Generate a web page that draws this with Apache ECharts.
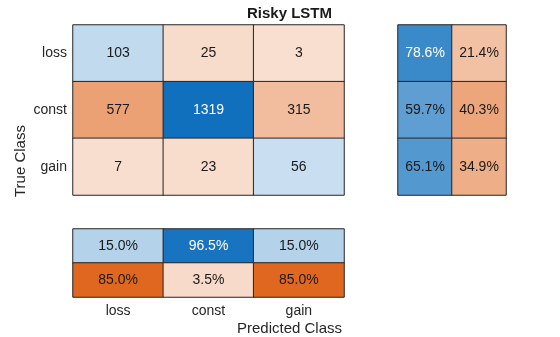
<!DOCTYPE html>
<html><head><meta charset="utf-8">
<script src="https://cdn.jsdelivr.net/npm/echarts@6/dist/echarts.min.js"></script>
<style>html,body{margin:0;padding:0;background:#fff}#c{width:560px;height:337px}</style>
</head><body><div id="c"></div>
<script>
const title = 'Risky LSTM';
const classes = ['loss', 'const', 'gain'];
const counts = [[103, 25, 3], [577, 1319, 315], [7, 23, 56]];
const rowPct = [[78.6, 21.4], [59.7, 40.3], [65.1, 34.9]];
const colPct = [[15.0, 96.5, 15.0], [85.0, 3.5, 85.0]];

const BLUE_L = [209, 227, 242], BLUE_F = [17, 112, 190];
const ORG_L = [248, 223, 208], ORG_F = [220, 82, 0];
function mix(a, b, t) {
  return 'rgb(' + a.map((v, i) => Math.round(v + (b[i] - v) * t)).join(',') + ')';
}
function cell(x, y, v, blue, t, text) {
  return {
    value: [x, y, v],
    itemStyle: { color: blue ? mix(BLUE_L, BLUE_F, t) : mix(ORG_L, ORG_F, t) },
    label: { color: (blue && t > 0.7) ? '#fff' : '#1a1a1a', formatter: text }
  };
}
const maxCount = Math.max(...counts.flat());
const mainData = [];
counts.forEach((row, i) => row.forEach((v, j) => mainData.push(cell(j, i, v, i === j, v / maxCount, String(v)))));
const rowData = [];
rowPct.forEach((row, i) => row.forEach((v, j) => rowData.push(cell(j, i, v, j === 0, v / 100, v.toFixed(1) + '%'))));
const colData = [];
colPct.forEach((row, i) => row.forEach((v, j) => colData.push(cell(j, i, v, i === 0, v / 100, v.toFixed(1) + '%'))));

const font = 'Liberation Sans, Arial, sans-serif';
const hidden = { axisLine: { show: false }, axisTick: { show: false }, axisLabel: { show: false }, splitLine: { show: false } };
const cellStyle = { borderColor: '#262626', borderWidth: 1 };
const lbl = { show: true, fontSize: 14, fontFamily: font };

const chart = echarts.init(document.getElementById('c'));
chart.setOption({
  animation: false,
  textStyle: { fontFamily: font },
  grid: [
    { left: 73, top: 25, width: 271, height: 170 },
    { left: 398, top: 25, width: 108, height: 170 },
    { left: 73, top: 229, width: 271, height: 68 }
  ],
  xAxis: [
    Object.assign({ type: 'category', data: classes, gridIndex: 0 }, hidden),
    Object.assign({ type: 'category', data: ['a', 'b'], gridIndex: 1 }, hidden),
    { type: 'category', data: classes, gridIndex: 2, axisLine: { show: false }, axisTick: { show: false },
      axisLabel: { fontSize: 14, color: '#262626', margin: 7, fontFamily: font }, splitLine: { show: false } }
  ],
  yAxis: [
    { type: 'category', data: classes, gridIndex: 0, inverse: true, axisLine: { show: false }, axisTick: { show: false },
      axisLabel: { fontSize: 14, color: '#262626', margin: 6, fontFamily: font }, splitLine: { show: false } },
    Object.assign({ type: 'category', data: classes, gridIndex: 1, inverse: true }, hidden),
    Object.assign({ type: 'category', data: ['p', 'n'], gridIndex: 2, inverse: true }, hidden)
  ],
  series: [
    { type: 'heatmap', xAxisIndex: 0, yAxisIndex: 0, data: mainData, itemStyle: cellStyle, label: lbl },
    { type: 'heatmap', xAxisIndex: 1, yAxisIndex: 1, data: rowData, itemStyle: cellStyle, label: lbl },
    { type: 'heatmap', xAxisIndex: 2, yAxisIndex: 2, data: colData, itemStyle: cellStyle, label: lbl }
  ],
  graphic: [
    { type: 'text', left: 247, top: 6, style: { text: title, font: 'bold 15px ' + font, fill: '#1a1a1a' } },
    { type: 'text', left: 237, top: 321, style: { text: 'Predicted Class', font: '15px ' + font, fill: '#262626' } },
    { type: 'text', x: 13, y: 197, rotation: Math.PI / 2, style: { text: 'True Class', font: '15px ' + font, fill: '#262626' } }
  ]
});
</script></body></html>
